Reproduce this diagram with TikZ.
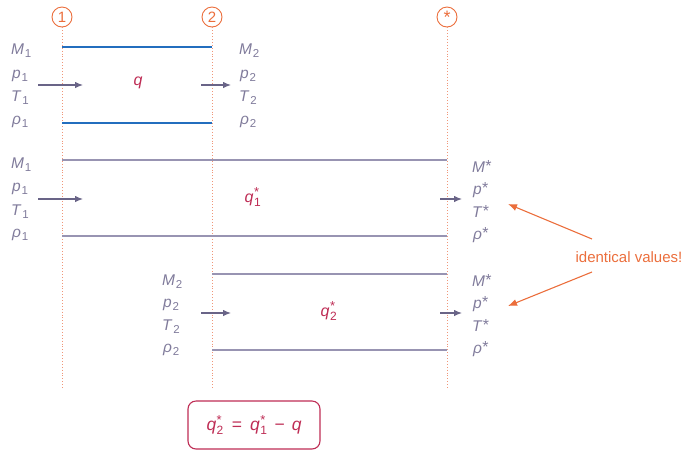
\documentclass[tikz,border=0pt]{standalone}
\usepackage{fontspec}
\setmainfont{Liberation Sans}
\usetikzlibrary{arrows.meta}
\definecolor{labgray}{RGB}{128,123,155}
\definecolor{linegray}{RGB}{152,148,178}
\definecolor{arrgray}{RGB}{105,100,135}
\definecolor{flowblue}{RGB}{35,110,190}
\definecolor{qred}{RGB}{190,45,85}
\definecolor{accorange}{RGB}{235,110,60}
\definecolor{dotorange}{RGB}{240,150,120}
\newcommand\lbl[2]{\textit{#1}\kern0.8pt\raisebox{-3pt}{\fontsize{11.5}{12}\selectfont #2}}
\newcommand\lst[1]{\textit{#1}\kern0.3pt\raisebox{1pt}{\fontsize{16}{16}\selectfont *}}
\newcommand\qsub[2]{\textit{#1}\kern0.5pt$^{\mbox{\fontsize{13}{13}\selectfont *}}_{\mbox{\fontsize{12}{12}\selectfont #2}}$}
\tikzset{
  varlab/.style={anchor=base west,inner sep=0pt,text=labgray,font=\fontsize{15.5}{17}\selectfont},
  stationline/.style={dotorange,dotted,line width=0.9pt},
  stationmark/.style={circle,draw=accorange,line width=0.9pt,minimum size=20pt,inner sep=0pt,text=accorange,font=\fontsize{15}{15}\selectfont},
  walltop/.style={flowblue,line width=1.8pt},
  wallgray/.style={linegray,line width=1.5pt},
  flowarrow/.style={arrgray,line width=1.1pt,-{Latex[length=8pt,width=6.5pt]}},
  qlab/.style={text=qred,inner sep=0pt,font=\fontsize{16}{18}\selectfont},
  notearrow/.style={accorange,line width=1.1pt,-{Latex[length=9pt,width=7pt]}},
}
\begin{document}
\begin{tikzpicture}[x=1pt,y=-1pt]
\useasboundingbox (0,0) rectangle (685,451);
% stations
\node[stationmark] (s1) at (62,17) {1};
\node[stationmark] (s2) at (212,17) {2};
\node[stationmark] (ss) at (447,17) {\raisebox{-3pt}{\fontsize{18}{18}\selectfont *}};
\coordinate (e1) at (62,388);
\coordinate (e2) at (212,388);
\coordinate (es) at (447,388);
\draw[stationline] (s1.south) -- (e1);
\draw[stationline] (s2.south) -- (e2);
\draw[stationline] (ss.south) -- (es);
% block 1
\coordinate (a1) at (62,47); \coordinate (a2) at (212,47);
\coordinate (b1) at (62,123); \coordinate (b2) at (212,123);
\draw[walltop] (a1) -- (a2);
\draw[walltop] (b1) -- (b2);
\node[varlab] (m1a) at (11,54) {\lbl{M}{1}};
\node[varlab] (p1a) at (12,78) {\lbl{p}{1}};
\node[varlab] (t1a) at (11,101) {\lbl{T}{1}};
\node[varlab] (r1a) at (12,124) {\lbl{ρ}{1}};
\node[varlab] (m2a) at (239,54) {\lbl{M}{2}};
\node[varlab] (p2a) at (240,78) {\lbl{p}{2}};
\node[varlab] (t2a) at (239,101) {\lbl{T}{2}};
\node[varlab] (r2a) at (240,124) {\lbl{ρ}{2}};
\coordinate (fa0) at (38,85); \coordinate (fa1) at (83,85);
\coordinate (fb0) at (201,85); \coordinate (fb1) at (231,85);
\draw[flowarrow] (fa0) -- (fa1);
\draw[flowarrow] (fb0) -- (fb1);
\node[qlab] (q) at (138,83) {\textit{q}};
% block 2
\coordinate (c1) at (62,160); \coordinate (c2) at (447,160);
\coordinate (d1) at (62,236); \coordinate (d2) at (447,236);
\draw[wallgray] (c1) -- (c2);
\draw[wallgray] (d1) -- (d2);
\node[varlab] (m1b) at (11,168) {\lbl{M}{1}};
\node[varlab] (p1b) at (12,191) {\lbl{p}{1}};
\node[varlab] (t1b) at (11,215) {\lbl{T}{1}};
\node[varlab] (r1b) at (12,237) {\lbl{ρ}{1}};
\node[varlab] (msb) at (472,172) {\lst{M}};
\node[varlab] (psb) at (473,194) {\lst{p}};
\node[varlab] (tsb) at (472,217) {\lst{T}};
\node[varlab] (rsb) at (473,239) {\lst{ρ}};
\coordinate (fc0) at (38,199); \coordinate (fc1) at (83,199);
\coordinate (fd0) at (440,199); \coordinate (fd1) at (462,199);
\draw[flowarrow] (fc0) -- (fc1);
\draw[flowarrow] (fd0) -- (fd1);
\node[qlab] (q1s) at (253,197) {\qsub{q}{1}};
% block 3
\coordinate (g1) at (212,274); \coordinate (g2) at (447,274);
\coordinate (h1) at (212,350); \coordinate (h2) at (447,350);
\draw[wallgray] (g1) -- (g2);
\draw[wallgray] (h1) -- (h2);
\node[varlab] (m2c) at (162,285) {\lbl{M}{2}};
\node[varlab] (p2c) at (163,307) {\lbl{p}{2}};
\node[varlab] (t2c) at (162,330) {\lbl{T}{2}};
\node[varlab] (r2c) at (163,352) {\lbl{ρ}{2}};
\node[varlab] (msc) at (472,286) {\lst{M}};
\node[varlab] (psc) at (473,308) {\lst{p}};
\node[varlab] (tsc) at (472,331) {\lst{T}};
\node[varlab] (rsc) at (473,353) {\lst{ρ}};
\coordinate (fe0) at (201,313); \coordinate (fe1) at (231,313);
\coordinate (ff0) at (440,313); \coordinate (ff1) at (462,313);
\draw[flowarrow] (fe0) -- (fe1);
\draw[flowarrow] (ff0) -- (ff1);
\node[qlab] (q2s) at (329,311) {\qsub{q}{2}};
% note
\node[text=accorange,inner sep=0pt,font=\fontsize{15}{16}\selectfont] (note) at (629,257) {identical values!};
\coordinate (n1) at (592,239); \coordinate (t1) at (508,204);
\coordinate (n2) at (592,272); \coordinate (t2) at (508,306);
\draw[notearrow] (n1) -- (t1);
\draw[notearrow] (n2) -- (t2);
% equation box
\node[draw=qred,line width=1.1pt,rounded corners=8pt,minimum width=132pt,minimum height=48pt,text=qred,font=\fontsize{17.5}{19}\selectfont] (eq) at (254,425) {\qsub{q}{2}\hspace{8pt}=\hspace{8pt}\qsub{q}{1}\hspace{7pt}−\hspace{7pt}\textit{q}};
\end{tikzpicture}
\end{document}
